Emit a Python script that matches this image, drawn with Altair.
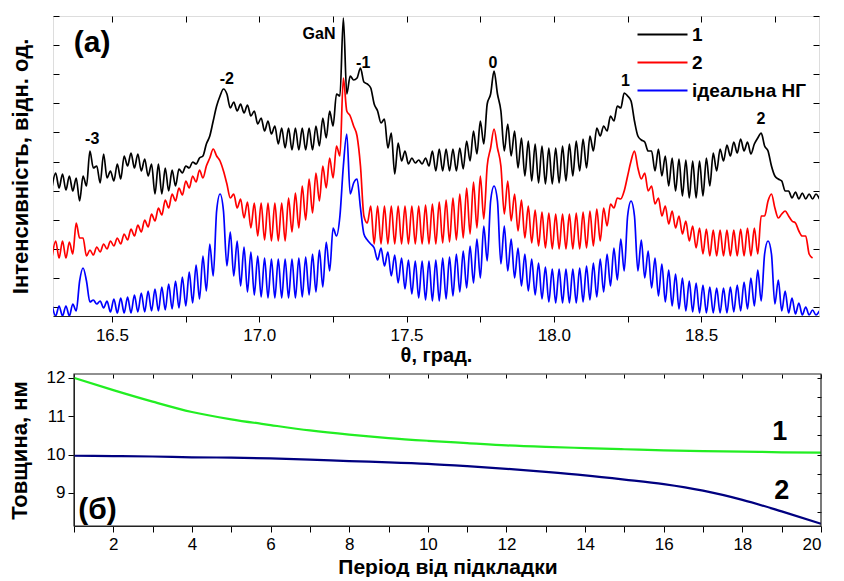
import altair as alt
import pandas as pd

# ---------------- panel (a): XRD curves ----------------
THETA_START = 16.2974   # theta of the first sample, deg
HALF_STEP = 0.011625    # half of the thickness-fringe period, deg

SERIES = ["1", "2", "ідеальна НГ"]
COLORS = ["#000000", "#ff0000", "#0000ff"]

# intensities (arb. units, log-like scale), one value per half fringe period
BLACK_I = [130,
           143, 128, 142, 126, 140, 125, 138, 115,
           140, 130, 165, 148, 150, 133, 162, 138, 145, 135,
           152, 137, 160, 150, 163, 148, 162, 145, 157, 140,
           152, 122, 152, 122, 148, 125, 146, 130, 147, 143,
           150, 148, 154, 152, 158, 160, 172, 180, 195, 210,
           220, 227, 222, 208, 214, 205, 212, 203, 211, 200,
           205, 192, 198, 185, 195, 182, 190, 172, 188, 168,
           188, 166, 188, 166, 188, 166, 188, 166, 190, 170,
           198, 178, 205, 190, 222, 220, 298, 222, 240, 236,
           238, 248, 234, 232, 228, 212, 205, 193, 197, 168,
           183, 142, 173, 155, 165, 152, 158, 153, 156, 152,
           158, 150, 165, 145, 167, 145, 167, 145, 167, 145,
           168, 147, 175, 155, 185, 162, 195, 172, 212, 222,
           245, 222, 205, 165, 192, 160, 185, 148, 178, 140,
           175, 135, 172, 133, 170, 132, 168, 132, 168, 133,
           170, 135, 172, 140, 175, 145, 177, 148, 180, 165,
           188, 180, 190, 185, 200, 195, 210, 208, 223, 220,
           215, 195, 180, 176, 174, 165, 165, 145, 167, 140,
           160, 130, 158, 125, 157, 120, 156, 118, 155, 118,
           155, 120, 158, 130, 163, 145, 167, 155, 171, 160,
           174, 163, 177, 165, 174, 162, 172, 178, 183, 170,
           165, 150, 140, 137, 135, 125, 125, 118, 124, 117,
           123, 117, 122, 117, 122, 117]

RED_I = [60,
         75, 58, 75, 58, 74, 62, 93, 78,
         78, 60, 66, 61, 69, 64, 72, 67, 75, 70,
         78, 72, 82, 76, 87, 80, 91, 84, 96, 89,
         102, 95, 108, 101, 116, 108, 122, 115, 128, 121,
         135, 128, 140, 134, 146, 138, 150, 158, 167, 160,
         155, 145, 132, 118, 122, 108, 117, 98, 114, 88,
         113, 80, 113, 76, 113, 75, 113, 75, 113, 75,
         118, 84, 123, 88, 130, 96, 137, 103, 143, 115,
         150, 128, 158, 138, 170, 160, 238, 205, 200, 190,
         180, 150, 100, 93, 110, 72, 110, 72, 110, 72,
         110, 72, 110, 72, 110, 72, 110, 72, 110, 72,
         111, 72, 112, 72, 114, 73, 116, 74, 118, 76,
         122, 78, 128, 82, 134, 88, 140, 97, 150, 168,
         187, 168, 150, 102, 135, 95, 122, 85, 116, 78,
         110, 73, 106, 70, 104, 68, 103, 67, 102, 67,
         102, 67, 102, 67, 103, 67, 104, 68, 105, 70,
         107, 75, 108, 90, 112, 108, 118, 117, 125, 140,
         155, 165, 148, 137, 143, 125, 130, 112, 118, 100,
         110, 92, 105, 88, 100, 82, 95, 75, 90, 68,
         88, 62, 87, 60, 86, 60, 86, 60, 86, 60,
         86, 60, 87, 60, 88, 60, 88, 62, 100, 100,
         115, 122, 108, 98, 102, 105, 100, 95, 93, 85,
         80, 80, 62, 58]

BLUE_I = [10, 0, 10, 0, 10, 0, 12, 5, 35, 48,
          35, 14, 16, 12, 15, 8, 15, 4, 17, 3,
          18, 3, 19, 3, 21, 4, 23, 4, 25, 5,
          27, 5, 29, 6, 32, 7, 35, 8, 39, 10,
          44, 13, 51, 17, 60, 25, 72, 40, 105, 122,
          105, 50, 84, 40, 75, 30, 69, 24, 64, 21,
          60, 19, 58, 18, 57, 18, 57, 18, 57, 18,
          57, 18, 58, 19, 59, 21, 62, 24, 66, 29,
          74, 45, 88, 80, 100, 150, 182, 122, 133, 137,
          108, 82, 76, 72, 68, 56, 68, 50, 64, 40,
          61, 33, 58, 27, 56, 22, 55, 18, 55, 16,
          55, 15, 56, 15, 58, 17, 59, 20, 62, 24,
          65, 28, 70, 33, 77, 38, 90, 55, 115, 130,
          115, 52, 90, 45, 77, 38, 68, 30, 62, 25,
          57, 21, 53, 17, 49, 14, 47, 13, 47, 13,
          47, 13, 47, 13, 48, 14, 50, 16, 53, 19,
          57, 24, 62, 30, 68, 36, 77, 45, 100, 115,
          100, 45, 76, 38, 65, 28, 58, 20, 52, 14,
          46, 10, 42, 7, 38, 5, 35, 4, 33, 3,
          31, 3, 29, 3, 28, 3, 28, 3, 29, 4,
          31, 5, 34, 7, 38, 10, 46, 15, 62, 75,
          62, 12, 36, 5, 25, 3, 18, 2, 13, 1,
          9, 1, 6, 1, 5]

X_DOMAIN_A = [16.3, 18.9]
Y_DOMAIN_A = [0, 300]
X_TICKS_A = [16.5, 16.75, 17.0, 17.25, 17.5, 17.75, 18.0, 18.25, 18.5, 18.75]
Y_TICKS_A = [9, 38.1, 67.2, 96.3, 125.4, 154.5, 183.6, 212.7, 241.8, 270.9, 300]

PEAK_LABELS = ["-3", "-2", "GaN", "-1", "0", "1", "2"]
PEAK_THETA = [16.433, 16.890, 17.203, 17.353, 17.793, 18.243, 18.703]
PEAK_LEVEL = [177, 237, 282, 253, 253, 235, 197]

# ---------------- panel (б): layer thickness ----------------
PERIOD = list(range(1, 21))
THICK_1 = [12.00, 11.68, 11.38, 11.11, 10.92, 10.77, 10.63, 10.52, 10.43, 10.36,
           10.30, 10.24, 10.20, 10.17, 10.14, 10.11, 10.09, 10.08, 10.06, 10.05]
THICK_2 = [9.97, 9.96, 9.95, 9.93, 9.92, 9.90, 9.87, 9.83, 9.80, 9.76,
           9.70, 9.63, 9.55, 9.46, 9.35, 9.23, 9.06, 8.82, 8.52, 8.20]
CURVE_LABELS_B = ["1", "2"]
CURVE_LABEL_X = [18.95, 19.0]
CURVE_LABEL_Y = [10.58, 9.05]
X_DOMAIN_B = [1, 20]
Y_DOMAIN_B = [8.14, 12.1]
Y_TICKS_B = [9, 10, 11, 12]
Y_MINOR_B = [8.5, 9, 9.5, 10, 10.5, 11, 11.5, 12]

FONT = "Liberation Sans"
NARROW = "Liberation Sans Narrow, Liberation Sans"
FRAME = "#222222"


def curve_rows(name, values):
    return [{"theta": THETA_START + j * HALF_STEP, "I": v, "series": name, "n": j}
            for j, v in enumerate(values)]


xrd = pd.DataFrame(curve_rows(SERIES[2], BLUE_I)
                   + curve_rows(SERIES[1], RED_I)
                   + curve_rows(SERIES[0], BLACK_I))
peaks = pd.DataFrame({"theta": PEAK_THETA, "I": PEAK_LEVEL, "label": PEAK_LABELS})

xs_a = alt.Scale(domain=X_DOMAIN_A, nice=False, zero=False)
ys_a = alt.Scale(domain=Y_DOMAIN_A, nice=False, zero=False)

ax_bottom_a = alt.Axis(values=X_TICKS_A, grid=False, tickSize=6, tickColor="black",
                       domainColor=FRAME, labelColor="black",
                       labelExpr="datum.value % 0.5 == 0 ? format(datum.value, '.1f') : ''",
                       labelFont=NARROW, labelFontSize=17, labelPadding=5,
                       title="θ, град.", titleFont=FONT, titleFontSize=20,
                       titleFontWeight="bold", titlePadding=2, titleColor="black")
ax_left_a = alt.Axis(values=Y_TICKS_A, grid=False, labels=False, domain=False,
                     tickSize=6, offset=-6, tickColor="black",
                     title="Інтенсивність, відн. од.", titleFont=FONT, titleFontSize=22,
                     titleFontWeight="bold", titlePadding=20, titleColor="black")
ax_top_a = alt.Axis(orient="top", values=X_TICKS_A, grid=False, labels=False, domain=False,
                    tickSize=6, offset=-6, tickColor="black", title=None)
ax_right_a = alt.Axis(orient="right", values=Y_TICKS_A, grid=False, labels=False, domain=False,
                      tickSize=6, offset=-6, tickColor="black", title=None)

lines_a = alt.Chart(xrd).mark_line(strokeWidth=1.7, clip=True, interpolate="monotone").encode(
    x=alt.X("theta:Q", scale=xs_a, axis=ax_bottom_a),
    y=alt.Y("I:Q", scale=ys_a, axis=ax_left_a),
    color=alt.Color("series:N", sort=SERIES,
                    scale=alt.Scale(domain=SERIES, range=COLORS),
                    legend=alt.Legend(title=None, orient="none", legendX=600, legendY=9,
                                      symbolType="M-5,0H5", symbolSize=100,
                                      symbolStrokeWidth=2, labelOffset=20,
                                      labelFont=FONT, labelFontSize=19,
                                      labelFontWeight="bold", labelColor="black",
                                      rowPadding=8, padding=0, labelLimit=200)),
    detail="series:N",
    order="n:Q",
)

peak_text = alt.Chart(peaks).mark_text(font=FONT, fontSize=16, fontWeight="bold",
                                       color="black", baseline="middle", align="center").encode(
    x=alt.X("theta:Q", scale=xs_a, axis=ax_top_a),
    y=alt.Y("I:Q", scale=ys_a, axis=ax_right_a),
    text="label:N",
)

panel_a_tag = alt.Chart(pd.DataFrame({"theta": [16.433], "I": [273], "t": ["(a)"]})).mark_text(
    font=FONT, fontSize=30, fontWeight="bold", color="black", baseline="middle", align="center"
).encode(x=alt.X("theta:Q", scale=xs_a, axis=None), y=alt.Y("I:Q", scale=ys_a, axis=None), text="t:N")

top = alt.layer(lines_a, peak_text, panel_a_tag).resolve_axis(
    x="independent", y="independent").properties(width=766, height=300)

# ---------------- panel (б) ----------------
W_B = 768          # view width; the framed plot area starts INSET_B px to the right
INSET_B = 21

thick = pd.DataFrame({"period": PERIOD * 2,
                      "d": THICK_1 + THICK_2,
                      "curve": ["1"] * len(PERIOD) + ["2"] * len(PERIOD)})
labels_b = pd.DataFrame({"period": CURVE_LABEL_X, "d": CURVE_LABEL_Y, "t": CURVE_LABELS_B})
frame_b = pd.DataFrame({"x0": [X_DOMAIN_B[0]], "x1": [X_DOMAIN_B[1]],
                        "y0": [Y_DOMAIN_B[0]], "y1": [Y_DOMAIN_B[1]]})

xs_b = alt.Scale(domain=X_DOMAIN_B, range=[INSET_B, W_B], nice=False, zero=False)
ys_b = alt.Scale(domain=Y_DOMAIN_B, nice=False, zero=False)

ax_bottom_b = alt.Axis(values=PERIOD, grid=False, tickSize=6, tickColor="black",
                       domainColor=FRAME, labelColor="black",
                       labelExpr="datum.value % 2 == 0 ? datum.label : ''",
                       labelFont=NARROW, labelFontSize=17, labelPadding=4,
                       title="Період від підкладки", titleFont=FONT, titleFontSize=21,
                       titleFontWeight="bold", titlePadding=4, titleColor="black")
ax_left_b = alt.Axis(values=Y_TICKS_B, grid=False, tickSize=6, tickColor="black", offset=-INSET_B,
                     domainColor=FRAME, labelColor="black", labelFont=NARROW,
                     labelFontSize=17, labelPadding=3,
                     title="Товщина, нм", titleFont=FONT, titleFontSize=22,
                     titleFontWeight="bold", titlePadding=15, titleColor="black")
ax_top_b = alt.Axis(orient="top", values=PERIOD, grid=False, labels=False, domain=False,
                    tickSize=4, offset=-4, tickColor="black", title=None)
ax_right_b = alt.Axis(orient="right", values=Y_MINOR_B, grid=False,
                      labels=False, domain=False, tickSize=4, offset=-4, tickColor="black", title=None)

lines_b = alt.Chart(thick).mark_line(strokeWidth=2.2, interpolate="monotone", clip=True).encode(
    x=alt.X("period:Q", scale=xs_b, axis=ax_bottom_b),
    y=alt.Y("d:Q", scale=ys_b, axis=ax_left_b),
    color=alt.Color("curve:N", scale=alt.Scale(domain=["1", "2"], range=["#22ee22", "#000080"]),
                    legend=None),
)
text_b = alt.Chart(labels_b).mark_text(font=FONT, fontSize=27, fontWeight="bold", color="black",
                                       baseline="middle", align="center").encode(
    x=alt.X("period:Q", scale=xs_b, axis=ax_top_b),
    y=alt.Y("d:Q", scale=ys_b, axis=ax_right_b),
    text="t:N",
)
tag_b = alt.Chart(pd.DataFrame({"period": [1.6], "d": [8.55], "t": ["(б)"]})).mark_text(
    font=FONT, fontSize=30, fontWeight="bold", color="black", baseline="middle", align="center"
).encode(x=alt.X("period:Q", scale=xs_b, axis=None), y=alt.Y("d:Q", scale=ys_b, axis=None), text="t:N")
box_b = alt.Chart(frame_b).mark_rect(filled=False, stroke=FRAME, strokeWidth=1.2).encode(
    x=alt.X("x0:Q", scale=xs_b, axis=None), x2="x1:Q",
    y=alt.Y("y0:Q", scale=ys_b, axis=None), y2="y1:Q",
)

bottom = alt.layer(lines_b, text_b, tag_b, box_b).resolve_axis(
    x="independent", y="independent").properties(
    width=W_B, height=152, view=alt.ViewBackground(strokeOpacity=0))

chart = alt.vconcat(top, bottom, spacing=2).resolve_scale(
    color="independent").properties(
    padding={"left": 0, "top": 7, "right": 0, "bottom": 0}
).configure_view(stroke=FRAME, strokeWidth=1.2).configure(background="white")

chart.save("out.html", embed_options={"renderer": "svg", "actions": False})
